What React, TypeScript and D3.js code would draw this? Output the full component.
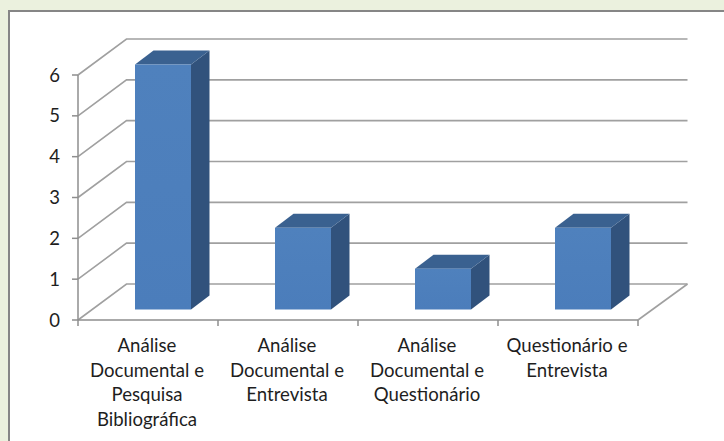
import React from "react";
import * as d3 from "d3";

const categories = [
  "Análise Documental e Pesquisa Bibliográfica",
  "Análise Documental e Entrevista",
  "Análise Documental e Questionário",
  "Questionário e Entrevista",
];
const categoryLines = [
  ["Análise", "Documental e", "Pesquisa", "Bibliográfica"],
  ["Análise", "Documental e", "Entrevista"],
  ["Análise", "Documental e", "Questionário"],
  ["Questionário e", "Entrevista"],
];
const values = [6, 2, 1, 2];
const yTicks = [0, 1, 2, 3, 4, 5, 6];

const W = 724, H = 441;
const plotLeft = 78, plotRight = 638, floorY = 320, topY = 75;
const wallDX = 48.5, wallDY = -36;
const barDX = 18.5, barDY = -14;
const barOffsetX = 15, barOffsetY = -10.5, barWidth = 56;

const x = d3.scaleBand<string>().domain(categories).range([plotLeft, plotRight]).paddingInner(0).paddingOuter(0);
const y = d3.scaleLinear().domain([0, 6]).range([floorY, topY]);

const GRID = "#a0a0a0";
const AXIS = "#8e8e8e";
const TEXT = "#1e1e1e";
const FONT = "Lato, 'Open Sans', sans-serif";

export default function App() {
  const pts = (a: number[][]) => a.map((p) => p.join(",")).join(" ");
  return (
    <svg width={W} height={H} style={{ position: "fixed", left: 0, top: 0, display: "block" }}>
      <defs>
        <linearGradient id="front" x1="0" x2="0" y1="0" y2="1">
          <stop offset="0" stopColor="#4f81bd" />
          <stop offset="1" stopColor="#4b7dbb" />
        </linearGradient>
      </defs>
      <rect x={0} y={0} width={W} height={H} fill="#ebf1de" />
      <rect x={9} y={11} width={W + 10} height={H + 10} fill="#fff" stroke="#868686" strokeWidth={2} />

      {yTicks.map((t) => (
        <g key={t}>
          <polyline
            points={pts([[plotLeft, y(t)], [plotLeft + wallDX, y(t) + wallDY], [plotRight + wallDX + 1, y(t) + wallDY]])}
            fill="none" stroke={GRID} strokeWidth={1.6}
          />
          <line x1={plotLeft - 6} x2={plotLeft} y1={y(t)} y2={y(t)} stroke={AXIS} strokeWidth={1.5} />
          <text x={60} y={y(t) + 6.5} textAnchor="end" fontFamily={FONT} fontSize={18.5} fill={TEXT}>{t}</text>
        </g>
      ))}

      <line x1={plotRight} y1={floorY} x2={plotRight + wallDX + 1} y2={floorY + wallDY} stroke={GRID} strokeWidth={1.6} />
      <line x1={plotLeft} x2={plotLeft} y1={topY} y2={floorY + 6} stroke={AXIS} strokeWidth={1.5} />
      <line x1={plotLeft} x2={plotRight} y1={floorY} y2={floorY} stroke={AXIS} strokeWidth={1.5} />
      {categories.map((c) => (
        <line key={c} x1={x(c)! + x.bandwidth()} x2={x(c)! + x.bandwidth()} y1={floorY} y2={floorY + 6} stroke={AXIS} strokeWidth={1.5} />
      ))}

      {categories.map((c, i) => {
        const left = x(c)! + (x.bandwidth() - barWidth) / 2 + barOffsetX;
        const right = left + barWidth;
        const bottom = floorY + barOffsetY;
        const top = y(values[i]) + barOffsetY;
        return (
          <g key={c}>
            <polygon
              points={pts([[right, top], [right + barDX, top + barDY], [right + barDX, bottom + barDY], [right, bottom]])}
              fill="#31527c"
            />
            <polygon
              points={pts([[left, top], [left + barDX, top + barDY], [right + barDX, top + barDY], [right, top]])}
              fill="#3a6190"
            />
            <rect x={left} y={top} width={barWidth} height={bottom - top} fill="url(#front)" />
          </g>
        );
      })}

      {categories.map((c, i) => (
        <text key={c} textAnchor="middle" fontFamily={FONT} fontSize={18.6} fill={TEXT}>
          {categoryLines[i].map((line, j) => (
            <tspan key={j} x={x(c)! + x.bandwidth() / 2 - 1} y={352 + j * 24.7}>{line}</tspan>
          ))}
        </text>
      ))}
    </svg>
  );
}
